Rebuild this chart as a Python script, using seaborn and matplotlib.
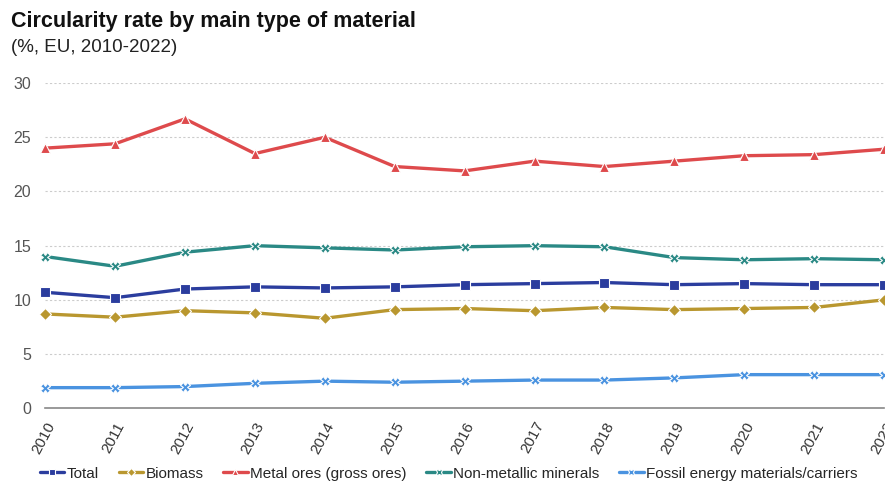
import matplotlib
matplotlib.use("Agg")
import matplotlib.pyplot as plt
import seaborn as sns
import pandas as pd

years = list(range(2010, 2023))
total = [10.7, 10.2, 11.0, 11.2, 11.1, 11.2, 11.4, 11.5, 11.6, 11.4, 11.5, 11.4, 11.4]
biomass = [8.7, 8.4, 9.0, 8.8, 8.3, 9.1, 9.2, 9.0, 9.3, 9.1, 9.2, 9.3, 10.0]
metal_ores = [24.0, 24.4, 26.7, 23.5, 25.0, 22.3, 21.9, 22.8, 22.3, 22.8, 23.3, 23.4, 23.9]
non_metallic = [14.0, 13.1, 14.4, 15.0, 14.8, 14.6, 14.9, 15.0, 14.9, 13.9, 13.7, 13.8, 13.7]
fossil = [1.9, 1.9, 2.0, 2.3, 2.5, 2.4, 2.5, 2.6, 2.6, 2.8, 3.1, 3.1, 3.1]

series_names = ["Total", "Biomass", "Metal ores (gross ores)",
                "Non-metallic minerals", "Fossil energy materials/carriers"]
series_values = [total, biomass, metal_ores, non_metallic, fossil]
colors = ["#2b3d9e", "#b9972f", "#de4a4c", "#2a8985", "#4a93e0"]
markers = ["s", "D", "^", "X", "X"]

df = pd.DataFrame(
    [(y, name, v) for name, vals in zip(series_names, series_values) for y, v in zip(years, vals)],
    columns=["year", "material", "rate"],
)

sns.set_theme(style="white")
plt.rcParams["font.family"] = ["Liberation Sans", "DejaVu Sans"]

fig = plt.figure(figsize=(8.85, 4.86), dpi=100)
ax = fig.add_axes([0.051, 0.160, 0.948, 0.669])

sns.lineplot(
    data=df, x="year", y="rate", hue="material", style="material",
    hue_order=series_names, style_order=series_names,
    palette=dict(zip(series_names, colors)),
    markers=dict(zip(series_names, markers)),
    dashes=False, linewidth=2.4, markersize=6.5, markeredgewidth=0.8,
    ax=ax, legend=True, clip_on=False,
)

ax.set_xlim(2010, 2022)
ax.set_ylim(0, 30)
ax.set_yticks([0, 5, 10, 15, 20, 25, 30])
ax.set_xticks(years)
ax.set_xticklabels([str(y) for y in years], rotation=62, ha="right",
                   rotation_mode="anchor", fontsize=11, color="#333333")
ax.tick_params(axis="y", length=0, labelsize=11.5, colors="#555555", pad=10)
ax.tick_params(axis="x", length=5, width=1, color="#888888", direction="out", pad=3)
ax.yaxis.grid(True, linestyle=(0, (2, 2)), color="#cccccc", linewidth=0.8)
ax.set_axisbelow(True)
for s in ["top", "right", "left"]:
    ax.spines[s].set_visible(False)
ax.spines["bottom"].set_color("#888888")
ax.spines["bottom"].set_linewidth(1.2)
ax.set_xlabel("")
ax.set_ylabel("")

handles, labels = ax.get_legend_handles_labels()
ax.get_legend().remove()
fig.legend(handles, labels, loc="lower center", bbox_to_anchor=(0.507, -0.017),
           ncol=5, frameon=False, fontsize=11, handlelength=1.6,
           handletextpad=0.15, columnspacing=1.3, markerscale=0.7)

fig.text(0.012, 0.955, "Circularity rate by main type of material",
         fontsize=15.5, fontweight="bold", color="#111111", va="center")
fig.text(0.012, 0.903, "(%, EU, 2010-2022)", fontsize=13.5, color="#222222", va="center")

fig.savefig("out.png", dpi=100)
